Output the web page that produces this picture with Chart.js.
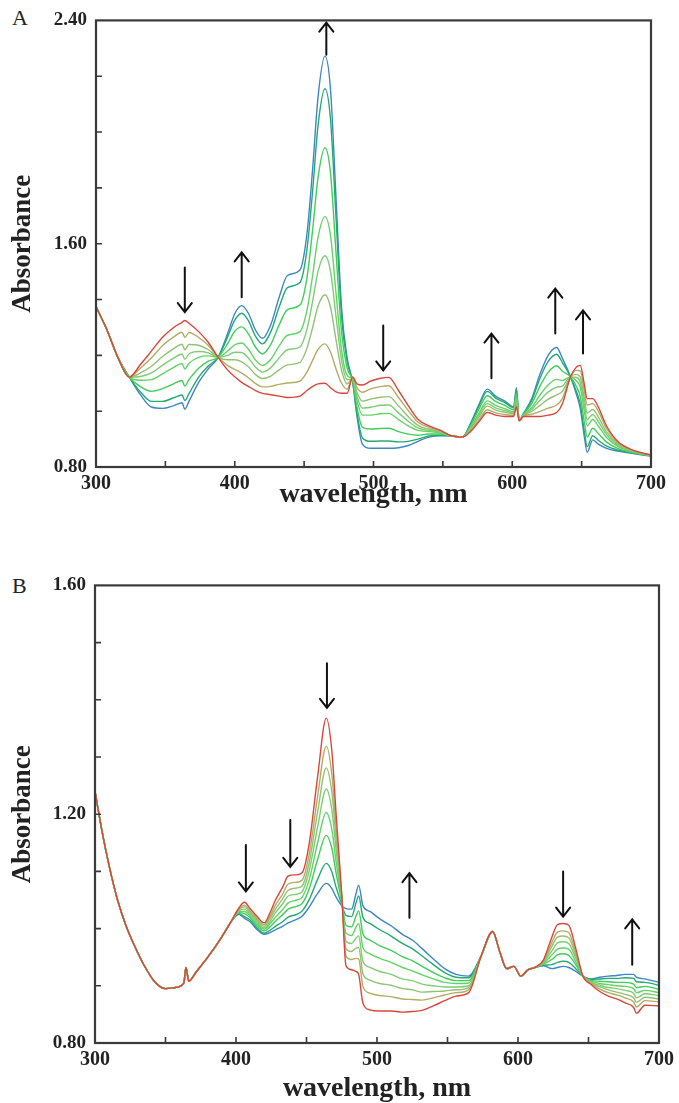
<!DOCTYPE html>
<html>
<head>
<meta charset="utf-8">
<script src="https://cdn.jsdelivr.net/npm/chart.js@4.4.1/dist/chart.umd.min.js"></script>
<style>
  body { margin: 0; background: #fff; }
  #wrap { position: relative; width: 679px; height: 1103px; overflow: hidden; }
  canvas { position: absolute; left: 0; }
  .panel-letter { position: absolute; left: 12px; font: 22px "Liberation Serif", serif; color: #222; }
</style>
</head>
<body>
<div id="wrap">
  <div class="panel-letter" style="top:5px">A</div>
  <canvas id="chartA" width="679" height="520" style="top:0"></canvas>
  <div class="panel-letter" style="top:573px">B</div>
  <canvas id="chartB" width="679" height="538" style="top:565px"></canvas>
</div>
<script>
// ---- panel A spectra (nm / absorbance), first scan red, last scan blue ----
const wavelengthA = [300,308,316,324,332,340,348,356,362,364,367,374,381,388,395,400,405,410,415,420,426,432,438,447,452,456,460,465,469,473,477,481,485,488,492,498,505,511,518,525,532,540,548,556,564,570,576,582,588,595,601,603,605,608,614,620,626,632,636,642,646,649,652,654,658,662,668,676,686,700];

const specA1 = [1.375,1.29,1.19,1.122,1.167,1.216,1.265,1.30,1.318,1.325,1.315,1.285,1.246,1.193,1.147,1.123,1.103,1.088,1.074,1.064,1.059,1.054,1.049,1.054,1.074,1.088,1.098,1.1,1.084,1.069,1.064,1.064,1.123,1.098,1.094,1.108,1.118,1.121,1.074,1.02,0.971,0.947,0.932,0.912,0.907,0.927,0.962,0.995,0.986,0.981,0.981,1.015,0.966,0.981,0.981,0.981,0.986,0.995,1.025,1.123,1.157,1.164,1.094,1.045,1.045,1.015,0.947,0.892,0.862,0.843];
const specA2 = [1.375,1.29,1.19,1.122,1.154,1.191,1.235,1.266,1.283,1.264,1.282,1.264,1.235,1.193,1.163,1.15,1.136,1.119,1.099,1.087,1.089,1.096,1.101,1.108,1.14,1.181,1.221,1.241,1.212,1.151,1.1,1.079,1.121,1.085,1.068,1.08,1.088,1.091,1.049,1.003,0.961,0.942,0.93,0.912,0.907,0.931,0.969,1.005,0.994,0.988,0.985,1.023,0.966,0.982,0.989,0.999,1.011,1.022,1.044,1.123,1.146,1.145,1.071,1.022,1.027,1.0,0.937,0.888,0.86,0.842];
const specA3 = [1.375,1.29,1.19,1.122,1.137,1.161,1.196,1.224,1.24,1.22,1.239,1.236,1.22,1.193,1.184,1.184,1.177,1.158,1.131,1.117,1.126,1.148,1.166,1.175,1.225,1.297,1.376,1.417,1.373,1.255,1.146,1.098,1.118,1.068,1.036,1.043,1.05,1.052,1.019,0.981,0.949,0.936,0.927,0.912,0.907,0.935,0.979,1.018,1.004,0.996,0.99,1.033,0.966,0.984,0.999,1.021,1.043,1.058,1.07,1.123,1.132,1.123,1.043,0.993,1.006,0.98,0.925,0.883,0.858,0.842];
const specA4 = [1.375,1.29,1.19,1.122,1.124,1.137,1.165,1.19,1.205,1.186,1.205,1.214,1.209,1.193,1.2,1.211,1.21,1.189,1.157,1.14,1.156,1.191,1.22,1.23,1.292,1.39,1.5,1.557,1.502,1.339,1.182,1.113,1.115,1.054,1.011,1.014,1.021,1.022,0.994,0.964,0.94,0.931,0.924,0.912,0.907,0.939,0.986,1.027,1.012,1.002,0.994,1.041,0.966,0.985,1.006,1.039,1.069,1.086,1.09,1.123,1.121,1.104,1.021,0.97,0.988,0.963,0.916,0.878,0.857,0.841];
const specA5 = [1.375,1.29,1.19,1.122,1.111,1.113,1.134,1.157,1.171,1.151,1.172,1.193,1.198,1.193,1.216,1.238,1.244,1.221,1.183,1.164,1.186,1.234,1.272,1.285,1.36,1.482,1.622,1.697,1.63,1.422,1.219,1.128,1.113,1.04,0.986,0.986,0.991,0.992,0.97,0.947,0.931,0.927,0.922,0.912,0.907,0.942,0.993,1.037,1.021,1.008,0.998,1.05,0.966,0.986,1.013,1.058,1.095,1.114,1.11,1.123,1.11,1.086,0.998,0.948,0.97,0.947,0.906,0.874,0.855,0.841];
const specA6 = [1.375,1.29,1.19,1.122,1.088,1.071,1.081,1.098,1.11,1.09,1.113,1.154,1.179,1.193,1.243,1.286,1.302,1.276,1.229,1.205,1.239,1.309,1.364,1.38,1.477,1.643,1.836,1.944,1.854,1.567,1.283,1.155,1.109,1.016,0.942,0.936,0.938,0.939,0.927,0.918,0.914,0.918,0.918,0.912,0.907,0.949,1.007,1.055,1.035,1.02,1.005,1.064,0.966,0.988,1.027,1.09,1.14,1.163,1.144,1.123,1.091,1.053,0.959,0.907,0.939,0.92,0.889,0.867,0.853,0.84];
const specA7 = [1.375,1.29,1.19,1.122,1.069,1.035,1.035,1.048,1.058,1.038,1.063,1.122,1.162,1.193,1.268,1.326,1.351,1.323,1.268,1.241,1.285,1.373,1.443,1.461,1.578,1.782,2.022,2.155,2.046,1.693,1.338,1.178,1.105,0.997,0.904,0.892,0.893,0.893,0.89,0.892,0.9,0.911,0.914,0.912,0.907,0.954,1.018,1.071,1.047,1.03,1.012,1.077,0.966,0.99,1.038,1.118,1.179,1.204,1.175,1.123,1.074,1.026,0.926,0.873,0.912,0.896,0.875,0.861,0.851,0.84];
const specA8 = [1.375,1.29,1.19,1.122,1.059,1.015,1.01,1.02,1.03,1.007,1.035,1.103,1.152,1.193,1.28,1.349,1.378,1.349,1.29,1.261,1.31,1.408,1.486,1.506,1.634,1.859,2.124,2.272,2.154,1.762,1.369,1.191,1.103,0.985,0.882,0.867,0.867,0.867,0.869,0.877,0.892,0.907,0.912,0.912,0.907,0.957,1.024,1.079,1.054,1.035,1.015,1.084,0.966,0.991,1.044,1.133,1.201,1.228,1.191,1.123,1.064,1.01,0.907,0.853,0.897,0.882,0.867,0.857,0.849,0.839];

// ---- panel B spectra ----
const wavelengthB = [300,305,310,316,322,328,335,342,350,357,363,364.5,366.5,372,380,388,396,402,406,410,415,420,424,428,433,437,443,447,452,458,464,468,471,475,478,482,485,487,490,495,502,510,518,525,532,540,548,556,565,574,582,587,592,597,602,607,612,618,624,628,632,636,641,646,652,658,664,670,676,682,684,690,700];

const specB1 = [1.24,1.17,1.11,1.05,1.005,0.97,0.935,0.908,0.895,0.897,0.905,0.932,0.908,0.925,0.95,0.978,1.01,1.036,1.046,1.035,1.021,1.01,1.027,1.05,1.072,1.092,1.094,1.098,1.15,1.268,1.368,1.31,1.2,1.06,0.935,0.928,0.925,0.92,0.87,0.858,0.856,0.856,0.854,0.855,0.857,0.865,0.874,0.882,0.888,0.953,0.995,0.96,0.93,0.934,0.917,0.928,0.932,0.945,0.985,1.007,1.009,1.006,0.965,0.917,0.902,0.89,0.882,0.877,0.87,0.862,0.852,0.866,0.865];
const specB2 = [1.24,1.17,1.11,1.05,1.005,0.97,0.935,0.908,0.895,0.897,0.905,0.932,0.908,0.925,0.95,0.978,1.01,1.034,1.041,1.031,1.017,1.007,1.021,1.041,1.06,1.078,1.081,1.085,1.131,1.233,1.319,1.269,1.175,1.057,0.952,0.946,0.948,0.947,0.899,0.887,0.883,0.881,0.877,0.876,0.875,0.879,0.884,0.888,0.893,0.953,0.995,0.96,0.93,0.934,0.917,0.928,0.932,0.943,0.976,0.994,0.996,0.993,0.958,0.917,0.904,0.894,0.888,0.884,0.879,0.872,0.863,0.874,0.872];
const specB3 = [1.24,1.17,1.11,1.05,1.005,0.97,0.935,0.908,0.895,0.897,0.905,0.932,0.908,0.925,0.95,0.978,1.01,1.033,1.038,1.028,1.014,1.004,1.017,1.034,1.052,1.067,1.071,1.075,1.116,1.206,1.281,1.238,1.157,1.054,0.965,0.96,0.966,0.967,0.921,0.91,0.904,0.901,0.895,0.893,0.889,0.89,0.891,0.893,0.897,0.953,0.995,0.96,0.93,0.934,0.917,0.928,0.932,0.942,0.969,0.985,0.987,0.984,0.953,0.917,0.905,0.898,0.893,0.889,0.885,0.879,0.871,0.88,0.877];
const specB4 = [1.24,1.17,1.11,1.05,1.005,0.97,0.935,0.908,0.895,0.897,0.905,0.932,0.908,0.925,0.95,0.978,1.01,1.031,1.034,1.025,1.011,1.001,1.012,1.028,1.043,1.057,1.06,1.065,1.102,1.179,1.244,1.207,1.138,1.051,0.978,0.974,0.983,0.987,0.943,0.932,0.925,0.92,0.912,0.909,0.903,0.9,0.898,0.898,0.9,0.953,0.995,0.96,0.93,0.934,0.917,0.928,0.932,0.941,0.961,0.975,0.977,0.974,0.948,0.917,0.906,0.901,0.897,0.895,0.892,0.887,0.879,0.886,0.883];
const specB5 = [1.24,1.17,1.11,1.05,1.005,0.97,0.935,0.908,0.895,0.897,0.905,0.932,0.908,0.925,0.95,0.978,1.01,1.03,1.03,1.022,1.008,0.999,1.008,1.02,1.033,1.045,1.05,1.055,1.086,1.151,1.203,1.173,1.117,1.049,0.992,0.988,1.002,1.009,0.967,0.956,0.948,0.941,0.932,0.926,0.919,0.912,0.906,0.904,0.905,0.953,0.995,0.96,0.93,0.934,0.917,0.928,0.932,0.939,0.954,0.964,0.966,0.964,0.942,0.917,0.908,0.904,0.902,0.9,0.899,0.895,0.888,0.892,0.888];
const specB6 = [1.24,1.17,1.11,1.05,1.005,0.97,0.935,0.908,0.895,0.897,0.905,0.932,0.908,0.925,0.95,0.978,1.01,1.028,1.026,1.019,1.005,0.996,1.003,1.013,1.024,1.034,1.039,1.044,1.07,1.122,1.163,1.14,1.097,1.046,1.006,1.003,1.021,1.031,0.991,0.98,0.97,0.962,0.951,0.944,0.934,0.923,0.914,0.909,0.909,0.953,0.995,0.96,0.93,0.934,0.917,0.928,0.932,0.938,0.946,0.954,0.956,0.953,0.937,0.917,0.909,0.908,0.907,0.906,0.906,0.903,0.897,0.899,0.894];
const specB7 = [1.24,1.17,1.11,1.05,1.005,0.97,0.935,0.908,0.895,0.897,0.905,0.932,0.908,0.925,0.95,0.978,1.01,1.026,1.021,1.015,1.001,0.992,0.997,1.004,1.012,1.02,1.025,1.031,1.051,1.087,1.114,1.099,1.072,1.042,1.023,1.021,1.044,1.057,1.02,1.009,0.998,0.987,0.974,0.965,0.952,0.937,0.923,0.915,0.914,0.953,0.995,0.96,0.93,0.934,0.917,0.928,0.932,0.936,0.937,0.941,0.943,0.941,0.93,0.917,0.911,0.912,0.913,0.913,0.914,0.913,0.907,0.906,0.901];
const specB8 = [1.24,1.17,1.11,1.05,1.005,0.97,0.935,0.908,0.895,0.897,0.905,0.932,0.908,0.925,0.95,0.978,1.01,1.025,1.018,1.012,0.998,0.99,0.993,0.998,1.004,1.01,1.016,1.022,1.038,1.062,1.079,1.07,1.055,1.04,1.035,1.034,1.06,1.076,1.04,1.03,1.017,1.005,0.99,0.98,0.965,0.947,0.93,0.92,0.917,0.953,0.995,0.96,0.93,0.934,0.917,0.928,0.932,0.935,0.93,0.932,0.934,0.932,0.925,0.917,0.912,0.915,0.917,0.918,0.92,0.92,0.915,0.912,0.906];

// axis labels
const xTicks = [300, 400, 500, 600, 700];
const yTicksA = [0.8, 1.6, 2.4];
const yTicksB = [0.8, 1.2, 1.6];

// direction-of-change arrows: wavelength, tail absorbance, head absorbance
const arrowNmA   = [364, 405, 466, 507, 585, 631, 651];
const arrowFromA = [1.515, 1.408, 2.277, 1.307, 1.118, 1.278, 1.207];
const arrowToA   = [1.355, 1.569, 2.392, 1.146, 1.278, 1.439, 1.361];

const arrowNmB   = [407, 438.5, 464.5, 523, 632, 681];
const arrowFromB = [1.146, 1.19, 1.464, 1.019, 1.10, 0.937];
const arrowToB   = [1.065, 1.108, 1.386, 1.097, 1.021, 1.016];

const scanColors = ['#d8473c', '#b2ad66', '#93c173', '#7fcc76', '#62d366', '#40cd58', '#22aa72', '#3f86c5'];

const serif = '"Liberation Serif", "Times New Roman", serif';

// box, inward minor ticks and arrows
const framePlugin = {
    id: 'frame',
    afterDatasetsDraw(chart, args, opts) {
        const {ctx, chartArea: a, scales: {x, y}} = chart;
        ctx.save();
        ctx.strokeStyle = '#3a3a3a';
        ctx.lineWidth = 2.2;
        ctx.strokeRect(a.left, a.top, a.right - a.left, a.bottom - a.top);

        ctx.lineWidth = 1.6;
        ctx.beginPath();
        for (let v = x.min + opts.xStep; v < x.max - 1e-6; v += opts.xStep) {
            const px = x.getPixelForValue(v);
            ctx.moveTo(px, a.bottom);
            ctx.lineTo(px, a.bottom - 6);
        }
        for (let v = y.min + opts.yStep; v < y.max - 1e-6; v += opts.yStep) {
            const py = y.getPixelForValue(v);
            ctx.moveTo(a.left, py);
            ctx.lineTo(a.left + 6, py);
        }
        ctx.stroke();

        ctx.strokeStyle = '#111';
        ctx.lineWidth = 2;
        ctx.lineCap = 'round';
        opts.arrowNm.forEach((nm, i) => {
            const px = x.getPixelForValue(nm);
            const y0 = y.getPixelForValue(opts.arrowFrom[i]);
            const y1 = y.getPixelForValue(opts.arrowTo[i]);
            const dir = y1 > y0 ? -1 : 1;
            ctx.beginPath();
            ctx.moveTo(px, y0);
            ctx.lineTo(px, y1);
            ctx.moveTo(px - 7, y1 + dir * 9);
            ctx.lineTo(px, y1);
            ctx.lineTo(px + 7, y1 + dir * 9);
            ctx.stroke();
        });
        ctx.restore();
    }
};

function makePanel(canvasId, wavelengths, scans, yMin, yMax, yTicks, yStep, arrows, box) {
    const datasets = scans.map((scan, i) => ({
        label: 'scan ' + (i + 1),
        data: wavelengths.map((nm, j) => ({x: nm, y: scan[j]})),
        borderColor: scanColors[i],
        borderWidth: 1.4,
        pointRadius: 0,
        fill: false,
        cubicInterpolationMode: 'monotone'
    }));

    return new Chart(document.getElementById(canvasId), {
        type: 'line',
        data: {datasets: datasets},
        plugins: [framePlugin],
        options: {
            responsive: false,
            animation: false,
            devicePixelRatio: 1,
            layout: {padding: {left: 0, right: box.right, top: box.top, bottom: 0}},
            plugins: {
                legend: {display: false},
                tooltip: {enabled: false},
                frame: {xStep: 50, yStep: yStep, arrowNm: arrows[0], arrowFrom: arrows[1], arrowTo: arrows[2]}
            },
            scales: {
                x: {
                    type: 'linear',
                    min: 300,
                    max: 700,
                    afterBuildTicks: scale => { scale.ticks = xTicks.map(v => ({value: v})); },
                    afterFit: scale => { scale.height = box.xHeight; },
                    grid: {display: false, drawTicks: false},
                    border: {display: false},
                    ticks: {
                        color: '#222',
                        padding: 5,
                        maxRotation: 0,
                        autoSkip: false,
                        font: {family: serif, size: 20, weight: 'bold'}
                    },
                    title: {
                        display: true,
                        text: 'wavelength, nm',
                        color: '#222',
                        padding: {top: 0, bottom: box.titlePad},
                        font: {family: serif, size: 28, weight: 'bold'}
                    }
                },
                y: {
                    min: yMin,
                    max: yMax,
                    afterBuildTicks: scale => { scale.ticks = yTicks.map(v => ({value: v})); },
                    afterFit: scale => { scale.width = box.left; },
                    grid: {display: false, drawTicks: false},
                    border: {display: false},
                    ticks: {
                        color: '#222',
                        padding: 9,
                        font: {family: serif, size: 19, weight: 'bold'},
                        callback: v => v.toFixed(2)
                    },
                    title: {
                        display: true,
                        text: 'Absorbance',
                        color: '#222',
                        padding: {top: 7, bottom: 0},
                        font: {family: serif, size: 27, weight: 'bold'}
                    }
                }
            }
        }
    });
}

makePanel('chartA', wavelengthA,
    [specA1, specA2, specA3, specA4, specA5, specA6, specA7, specA8],
    0.8, 2.4, yTicksA, 0.2,
    [arrowNmA, arrowFromA, arrowToA],
    {left: 96, right: 28, top: 19, xHeight: 53, titlePad: 8});

makePanel('chartB', wavelengthB,
    [specB1, specB2, specB3, specB4, specB5, specB6, specB7, specB8],
    0.8, 1.6, yTicksB, 0.1,
    [arrowNmB, arrowFromB, arrowToB],
    {left: 95, right: 17, top: 19, xHeight: 60, titlePad: -3});
</script>
</body>
</html>
